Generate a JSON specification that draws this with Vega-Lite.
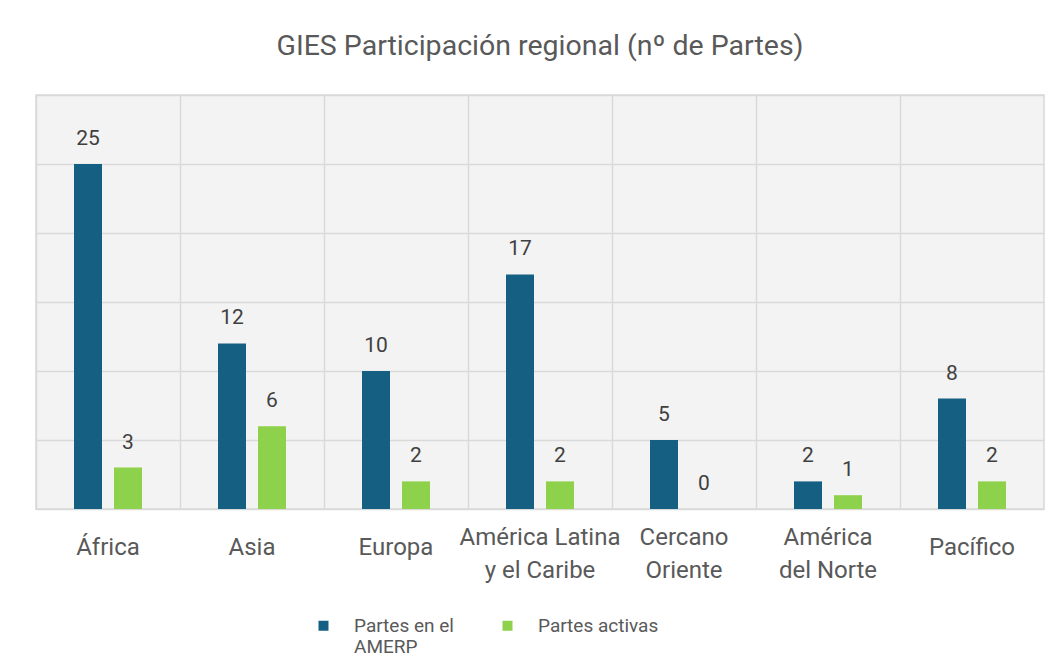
{
  "$schema": "https://vega.github.io/schema/vega-lite/v6.json",
  "width": 1008,
  "height": 414,
  "autosize": {"type": "none"},
  "padding": {"left": 36, "top": 95, "right": 19, "bottom": 152},
  "background": "white",
  "title": {
    "text": "GIES Participación regional (nº de Partes)",
    "font": "Roboto",
    "fontSize": 28.5,
    "fontWeight": "normal",
    "color": "#595959",
    "anchor": "middle",
    "offset": 35
  },
  "config": {
    "view": {"stroke": "#d9d9d9", "strokeWidth": 1.5, "fill": "#f3f3f3"},
    "font": "Roboto"
  },
  "data": {
    "values": [
      {"region": "África", "series": "Partes en el AMERP", "value": 25},
      {"region": "África", "series": "Partes activas", "value": 3},
      {"region": "Asia", "series": "Partes en el AMERP", "value": 12},
      {"region": "Asia", "series": "Partes activas", "value": 6},
      {"region": "Europa", "series": "Partes en el AMERP", "value": 10},
      {"region": "Europa", "series": "Partes activas", "value": 2},
      {"region": "América Latina y el Caribe", "series": "Partes en el AMERP", "value": 17},
      {"region": "América Latina y el Caribe", "series": "Partes activas", "value": 2},
      {"region": "Cercano Oriente", "series": "Partes en el AMERP", "value": 5},
      {"region": "Cercano Oriente", "series": "Partes activas", "value": 0},
      {"region": "América del Norte", "series": "Partes en el AMERP", "value": 2},
      {"region": "América del Norte", "series": "Partes activas", "value": 1},
      {"region": "Pacífico", "series": "Partes en el AMERP", "value": 8},
      {"region": "Pacífico", "series": "Partes activas", "value": 2}
    ]
  },
  "encoding": {
    "x": {
      "field": "region",
      "type": "nominal",
      "sort": null,
      "scale": {"paddingInner": 0, "paddingOuter": 0},
      "axis": {
        "title": null,
        "labelAngle": 0,
        "labelFontSize": 24,
        "labelColor": "#595959",
        "labelPadding": {"condition": {"test": "indexof(['África','Asia','Europa','Pacífico'], datum.value) >= 0", "value": 38}, "value": 28},
        "labelBaseline": "middle",
        "labelLineHeight": 33,
        "labelExpr": "datum.label == 'América Latina y el Caribe' ? ['América Latina', 'y el Caribe'] : datum.label == 'Cercano Oriente' ? ['Cercano', 'Oriente'] : datum.label == 'América del Norte' ? ['América', 'del Norte'] : datum.label",
        "ticks": false,
        "domain": false,
        "grid": true,
        "bandPosition": 0,
        "gridColor": "#d9d9d9",
        "gridWidth": 1.5
      }
    },
    "xOffset": {
      "field": "series",
      "type": "nominal",
      "sort": ["Partes en el AMERP", "Partes activas"],
      "scale": {"paddingInner": 0.3, "paddingOuter": 0.95}
    },
    "y": {
      "field": "value",
      "type": "quantitative",
      "scale": {"domain": [0, 30]},
      "axis": {
        "title": null,
        "labels": false,
        "ticks": false,
        "domain": false,
        "values": [0, 5, 10, 15, 20, 25, 30],
        "gridColor": "#d9d9d9",
        "gridWidth": 1.5
      }
    }
  },
  "layer": [
    {
      "mark": {"type": "bar"},
      "encoding": {
        "color": {
          "field": "series",
          "type": "nominal",
          "sort": ["Partes en el AMERP", "Partes activas"],
          "scale": {"domain": ["Partes en el AMERP", "Partes activas"], "range": ["#156082", "#8ED14B"]},
          "legend": {
            "title": null,
            "orient": "none",
            "legendX": 278,
            "legendY": 521,
            "direction": "horizontal",
            "symbolType": "square",
            "symbolSize": 100,
            "symbolStrokeWidth": 0,
            "labelFontSize": 19,
            "labelColor": "#595959",
            "labelBaseline": "middle",
            "labelOffset": 21,
            "labelLineHeight": 24,
            "columnPadding": 44,
            "labelExpr": "datum.label == 'Partes en el AMERP' ? ['Partes en el', 'AMERP'] : [datum.label, '']"
          }
        }
      }
    },
    {
      "mark": {"type": "text", "baseline": "middle", "dy": -25, "fontSize": 21, "color": "#404040"},
      "encoding": {"text": {"field": "value", "type": "quantitative"}}
    }
  ]
}
